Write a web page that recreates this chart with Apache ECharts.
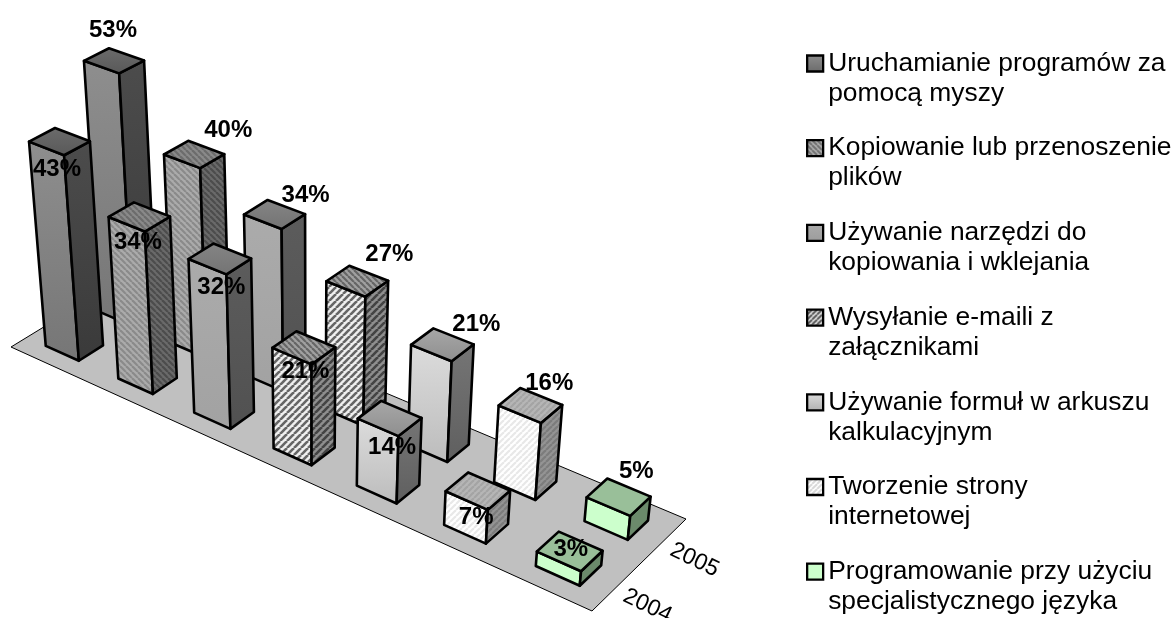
<!DOCTYPE html>
<html><head><meta charset="utf-8">
<style>html,body{margin:0;padding:0;background:#fff}#c{width:1174px;height:618px}</style>
<script src="https://cdn.jsdelivr.net/npm/echarts@6/dist/echarts.min.js"></script>
</head><body><div id="c"></div>
<script>
const categories = [
  "Uruchamianie programów za\npomocą myszy",
  "Kopiowanie lub przenoszenie\nplików",
  "Używanie narzędzi do\nkopiowania i wklejania",
  "Wysyłanie e-maili z\nzałącznikami",
  "Używanie formuł w arkuszu\nkalkulacyjnym",
  "Tworzenie strony\ninternetowej",
  "Programowanie przy użyciu\nspecjalistycznego języka"
];
const years = ["2004", "2005"];
const values2004 = [43, 34, 32, 21, 14, 7, 3];
const values2005 = [53, 40, 34, 27, 21, 16, 5];

// label nudges from each bar's top back corner, in pixels
const nudge2004 = [[2,41],[4,40],[8,44],[9,40],[11,46],[8,45],[12,18]];
const nudge2005 = [[4,-18],[40,-10],[38,-5],[40,-11],[43,-4],[29,-5],[29,-7]];

// Floor corners on the screen: (u,v) = (0,0),(1,0),(1,1),(0,1)
const A=[11,347],B=[592,611],C=[686,519],D=[119,281];
const VP=[312,3600], K=-0.0825, WU=0.066, WV=0.22, AXMAX=60;
const d1=[B[0]-C[0],B[1]-C[1]], d2=[D[0]-C[0],D[1]-C[1]], s=[A[0]-B[0]+C[0]-D[0],A[1]-B[1]+C[1]-D[1]];
const det=d1[0]*d2[1]-d2[0]*d1[1];
const hg=(s[0]*d2[1]-d2[0]*s[1])/det, hh=(d1[0]*s[1]-s[0]*d1[1])/det;
const ha=B[0]-A[0]+hg*B[0], hb=D[0]-A[0]+hh*D[0], hd=B[1]-A[1]+hg*B[1], he=D[1]-A[1]+hh*D[1];
function project(u,v,z){
  const t=z*K;
  const X=ha*u+hb*v+A[0]+t*VP[0], Y=hd*u+he*v+A[1]+t*VP[1], W=hg*u+hh*v+1+t;
  return [X/W,Y/W];
}
function stripes(bg,fg,dir,p,lw){
  const cv=document.createElement('canvas');cv.width=p;cv.height=p;
  const g=cv.getContext('2d');g.fillStyle=bg;g.fillRect(0,0,p,p);
  g.strokeStyle=fg;g.lineWidth=lw;
  for(let i=-1;i<=1;i++){g.beginPath();
    if(dir>0){g.moveTo(i*p,p);g.lineTo(i*p+p,0);}else{g.moveTo(i*p,0);g.lineTo(i*p+p,p);}
    g.stroke();}
  return {image:cv,repeat:'repeat'};
}
function grad(a,b){return {type:'linear',x:0,y:0,x2:0,y2:1,colorStops:[{offset:0,color:a},{offset:1,color:b}]};}
const faces=[
 {front:grad('#8e8e8e','#767676'),side:grad('#4c4c4c','#3a3a3a'),top:grad('#6c6c6c','#585858'),legend:grad('#8e8e8e','#6a6a6a')},
 {front:stripes('#ababab','#8a8a8a',-1,6,2.2),side:stripes('#6a6a6a','#4c4c4c',-1,6,2.2),top:stripes('#8a8a8a','#6c6c6c',-1,6,2.2),legend:stripes('#b0b0b0','#707070',-1,5,2)},
 {front:grad('#ababab','#a2a2a2'),side:grad('#5c5c5c','#515151'),top:grad('#858585','#737373'),legend:grad('#ababab','#9c9c9c')},
 {front:stripes('#efefef','#666666',1,7,2.6),side:stripes('#8e8e8e','#444444',1,7,2.6),top:stripes('#a0a0a0','#666666',-1,6,2.2),legend:stripes('#e8e8e8','#555555',1,5,2)},
 {front:grad('#dcdcdc','#bcbcbc'),side:grad('#757575','#5f5f5f'),top:grad('#a8a8a8','#8e8e8e'),legend:grad('#dcdcdc','#b0b0b0')},
 {front:stripes('#ffffff','#e8e8e8',1,6,2.2),side:stripes('#949494','#7c7c7c',1,6,2.2),top:stripes('#b6b6b6','#a4a4a4',1,6,2.2),legend:stripes('#ffffff','#d8d8d8',1,5,2)},
 {front:'#ccffcc',side:'#6b8a6b',top:'#99bf99',legend:'#ccffcc'}
];
const LINE={stroke:'#000',lineWidth:2.6,lineJoin:'round'};
const labelFont='bold 24px "Liberation Sans", Arial, sans-serif';

function renderBar(params,api){
  const cs=params.coordSys, k=api.value(0), val=api.value(1), yi=api.value(2);
  const pt=api.coord([k,val]);
  const u=(pt[0]-cs.x)/cs.width, z=(cs.y+cs.height-pt[1])/cs.height, v=(yi+0.5)/2;
  const u0=u-WU/2,u1=u+WU/2,v0=v-WV/2,v1=v+WV/2;
  const P=(a,b,c)=>project(a,b,c);
  const f=faces[k], z2=(yi===0?30:10)+k;
  const poly=(pts,fill)=>({type:'polygon',z2,shape:{points:pts},style:Object.assign({fill},LINE)});
  const back=P(u0,v1,z), n=(yi===0?nudge2004:nudge2005)[k];
  return {type:'group',children:[
    poly([P(u0,v0,z),P(u1,v0,z),P(u1,v0,0),P(u0,v0,0)],f.front),
    poly([P(u1,v0,z),P(u1,v1,z),P(u1,v1,0),P(u1,v0,0)],f.side),
    poly([P(u0,v0,z),P(u1,v0,z),P(u1,v1,z),P(u0,v1,z)],f.top),
    {type:'text',z2:100,style:{text:val+'%',x:back[0]+n[0],y:back[1]+n[1],fill:'#000',font:labelFont,align:'center',verticalAlign:'middle'}}
  ]};
}
function renderFloor(params,api){
  return {type:'group',children:[
    {type:'polygon',z2:1,shape:{points:[A,B,C,D]},style:{fill:'#c0c0c0',stroke:'#000',lineWidth:1}}
  ].concat(years.map((y,i)=>{
    const p=project(1,(i+0.5)/2,0);
    return {type:'text',z2:100,rotation:-0.45,x:p[0]+31,y:p[1]+19,
      style:{text:y,x:0,y:0,fill:'#000',font:'23px "Liberation Sans", Arial, sans-serif',align:'center',verticalAlign:'middle'}};
  }))};
}
const series=[{type:'custom',name:'floor',silent:true,clip:false,renderItem:renderFloor,data:[[0,0]],encode:{x:0,y:1}}];
categories.forEach((name,k)=>{
  series.push({type:'custom',name,clip:false,silent:true,renderItem:renderBar,
    itemStyle:{color:'#888'},
    encode:{x:0,y:1},
    data:[[k,values2005[k],1],[k,values2004[k],0]]});
});
const chart=echarts.init(document.getElementById('c'),null,{width:1174,height:618});
chart.setOption({
  animation:false,
  backgroundColor:'#fff',
  grid:{left:0,right:0,top:0,bottom:0,show:false},
  xAxis:{type:'category',data:categories,show:false},
  yAxis:{type:'value',min:0,max:AXMAX,show:false},
  legend:{orient:'vertical',left:806,top:18.5,icon:'rect',itemWidth:16,itemHeight:16,itemGap:-5.3,padding:0,
    selectedMode:false,
    textStyle:{color:'#000',fontFamily:'"Liberation Sans", Arial, sans-serif',fontSize:26.4,lineHeight:30},
    formatter:n=>'\n'+n,
    data:categories.map((name,k)=>({name,icon:'rect',itemStyle:{color:faces[k].legend,borderColor:'#000',borderWidth:2.3}}))},
  series
});
</script></body></html>
